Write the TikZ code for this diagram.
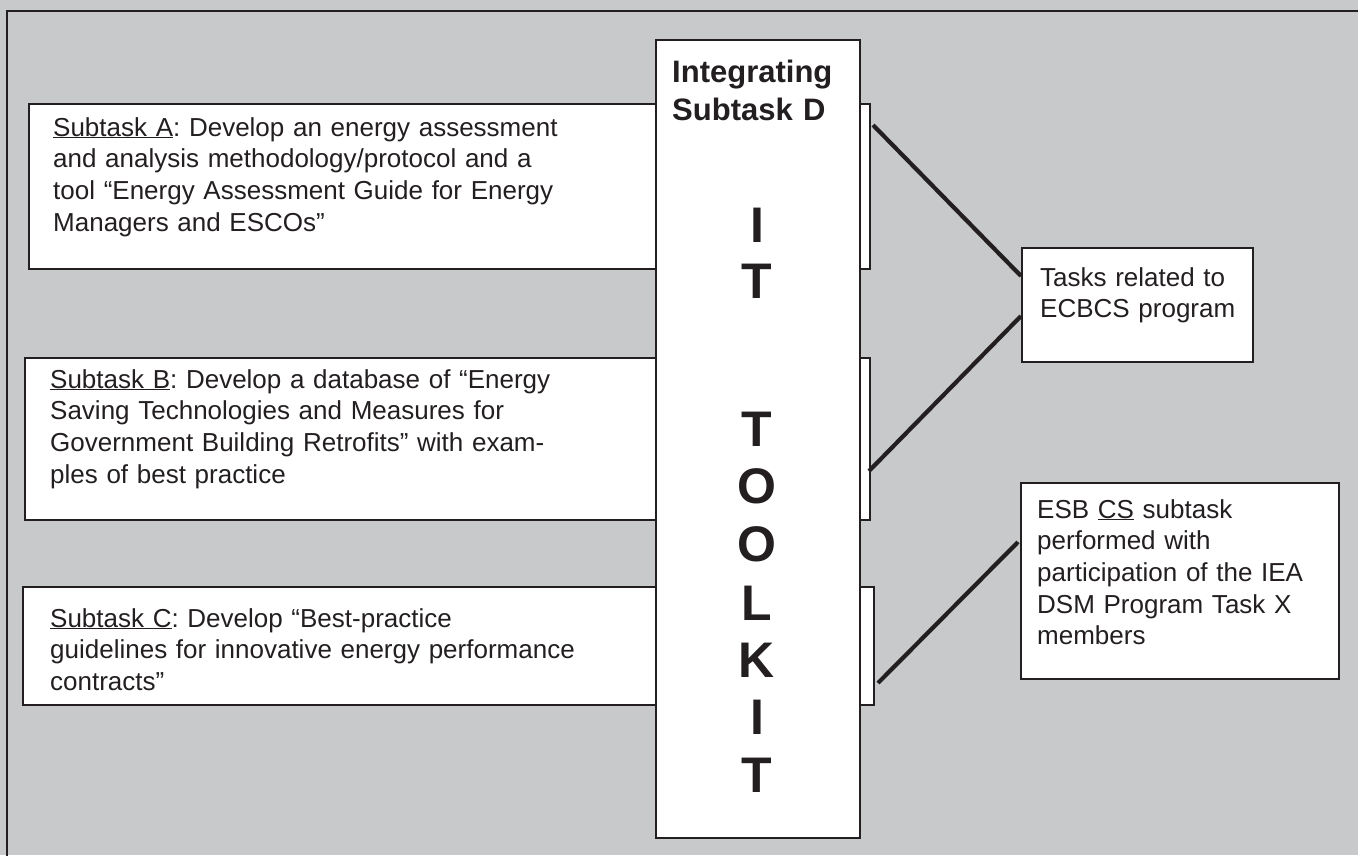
\documentclass[tikz,border=0pt]{standalone}
\usepackage{fontspec}
\setmainfont{Liberation Sans}
\definecolor{bggrey}{RGB}{200,201,203}
\definecolor{ink}{RGB}{35,31,32}
\frenchspacing
\begin{document}
\begin{tikzpicture}[x=1pt,y=-1pt,
  framebox/.style={draw=ink,line width=2.6pt},
  taskbox/.style={draw=ink,line width=2pt,fill=white,rectangle,inner sep=0pt,anchor=north west},
  conn/.style={draw=ink,line width=4.2pt},
  bodytext/.style={font=\frenchspacing\fontsize{26}{31.7}\selectfont,align=left,inner sep=0pt,anchor=base west,text=ink},
  titletext/.style={font=\bfseries\fontsize{31}{38}\selectfont,align=left,inner sep=0pt,anchor=base west,text=ink},
  bigletter/.style={font=\bfseries\fontsize{50}{58}\selectfont,inner sep=0pt,anchor=base,text=ink}]
\useasboundingbox (0,0) rectangle (1358,855);
\fill[bggrey] (0,0) rectangle (1358,855);
\draw[framebox] (7,856) -- (7,11) -- (1358,11);

% left task boxes (behind the toolkit column)
\node[taskbox,minimum width=841pt,minimum height=165pt] (boxA) at (28,103) {};
\node[taskbox,minimum width=845pt,minimum height=162pt] (boxB) at (24,357) {};
\node[taskbox,minimum width=851pt,minimum height=118pt] (boxC) at (22,586) {};

% central toolkit column
\node[taskbox,minimum width=204pt,minimum height=798pt] (kit) at (655,39) {};

% right boxes
\node[taskbox,minimum width=231pt,minimum height=114pt] (ecbcs) at (1021,247) {};
\node[taskbox,minimum width=318pt,minimum height=196pt] (esb) at (1020,482) {};

% texts
\node[bodytext,text width=800pt] (textA) at (53,136)
  {\underline{Subtask A}: Develop an energy assessment\\and analysis methodology/protocol and a\\tool “Energy Assessment Guide for Energy\\Managers and ESCOs”};
\node[bodytext,text width=800pt] (textB) at (50,388)
  {\underline{Subtask B}: Develop a database of “Energy\\Saving Technologies and Measures for\\Government Building Retrofits” with exam-\\ples of best practice};
\node[bodytext,text width=800pt] (textC) at (50,627)
  {\underline{Subtask C}: Develop “Best-practice\\guidelines for innovative energy performance\\contracts”};
\node[bodytext,text width=200pt] (textE) at (1040,286)
  {\makebox[195pt][s]{Tasks related to}\\ECBCS program};
\node[bodytext,text width=300pt] (textF) at (1037,518)
  {ESB \underline{CS} subtask\\performed with\\participation of the IEA\\DSM Program Task X\\members};

\node[titletext,text width=190pt] (title) at (672,82) {Integrating\\Subtask D};

\node[bigletter] (k1) at (757,242) {I};
\node[bigletter] (k2) at (757,298) {T};
\node[bigletter] (k3) at (757,446) {T};
\node[bigletter] (k4) at (757,503) {O};
\node[bigletter] (k5) at (757,561) {O};
\node[bigletter] (k6) at (757,620) {L};
\node[bigletter] (k7) at (757,677) {K};
\node[bigletter] (k8) at (757,734) {I};
\node[bigletter] (k9) at (757,792) {T};

% connectors
\draw[conn] ([xshift=2pt,yshift=61.5pt]boxA.east) -- ([yshift=29pt]ecbcs.west);
\draw[conn] ([xshift=-2pt,yshift=-32pt]boxB.east) -- ([yshift=-11pt]ecbcs.west);
\draw[conn] ([xshift=3pt,yshift=-37pt]boxC.east) -- ([xshift=-2pt,yshift=39pt]esb.west);
\end{tikzpicture}
\end{document}
